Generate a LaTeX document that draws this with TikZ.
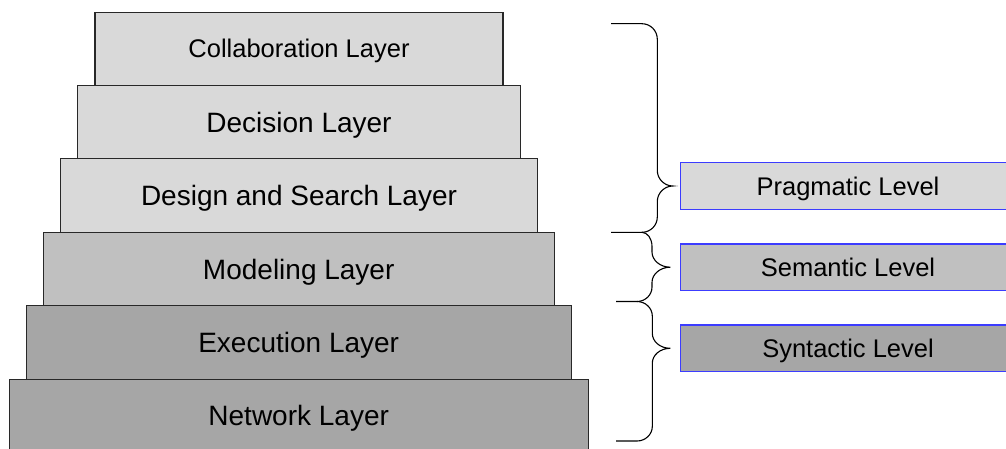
\documentclass[tikz,border=0pt]{standalone}
\usepackage{fontspec}
\setmainfont{Liberation Sans}
\definecolor{lightfill}{RGB}{217,217,217}
\definecolor{midfill}{RGB}{192,192,192}
\definecolor{darkfill}{RGB}{166,166,166}
\definecolor{levelblue}{RGB}{60,60,255}
\definecolor{layerline}{RGB}{40,40,40}
\tikzset{
  layerbox/.style={draw=layerline, line width=1.1pt, minimum height=73.4, inner sep=0pt,
    text height=20.05pt, text depth=0pt, font=\fontsize{28}{32}\selectfont},
  smalltext/.style={text height=18.26pt, font=\fontsize{25.5}{30}\selectfont},
  levelbox/.style={draw=levelblue, line width=1.3pt, minimum width=335.4, minimum height=46.6,
    inner sep=0pt, text height=18.26pt, text depth=0pt, font=\fontsize{25.5}{30}\selectfont},
  bracepath/.style={draw=black, line width=1.1pt}
}
\begin{document}
\begin{tikzpicture}[x=1pt,y=-1pt]
\useasboundingbox (0,0) rectangle (1006,449);
\clip (0,0) rectangle (1006,449);
\fill[white] (0,0) rectangle (1006,449);
% layers
\node[layerbox, smalltext, fill=lightfill, minimum width=408] (collab) at (299,48.8) {Collaboration Layer};
\node[layerbox, fill=lightfill, minimum width=442.6] (decision) at (299,122.2) {Decision Layer};
\node[layerbox, fill=lightfill, minimum width=476.6] (design) at (299,195.6) {Design and Search Layer};
\node[layerbox, fill=midfill, minimum width=510.7] (modeling) at (298.7,269) {Modeling Layer};
\node[layerbox, fill=darkfill, minimum width=544.7] (execution) at (298.7,342.4) {Execution Layer};
\node[layerbox, fill=darkfill, minimum width=578.7] (network) at (298.7,415.8) {Network Layer};
% levels
\node[levelbox, fill=lightfill] (pragmatic) at (848,186) {Pragmatic Level};
\node[levelbox, fill=midfill] (semantic) at (848,267.2) {Semantic Level};
\node[levelbox, fill=darkfill] (syntactic) at (848,348.3) {Syntactic Level};
% brace 1 (pragmatic)
\draw[bracepath] (611,23.7) -- (641.8,23.7)
  .. controls (650.4,23.7) and (657.3,30.6) .. (657.3,39.2)
  -- (657.3,170.5)
  .. controls (657.3,179.1) and (664.6,186) .. (672.8,186)
  .. controls (664.6,186) and (657.3,192.9) .. (657.3,201.5)
  -- (657.3,217)
  .. controls (657.3,225.6) and (650.4,232.3) .. (641.8,232.3)
  -- (611,232.3);
% brace 2 (semantic)
\draw[bracepath] (641.8,232.3)
  .. controls (647.6,232.3) and (652,238.7) .. (652,246.5)
  -- (652,252)
  .. controls (652,260.3) and (660.2,267.2) .. (670.3,267.2)
  .. controls (660.2,267.2) and (652,274.1) .. (652,282.4)
  -- (652,287)
  .. controls (652,295) and (645.3,301.5) .. (637,301.5)
  -- (616,301.5);
% brace 3 (syntactic)
\draw[bracepath] (637,301.5)
  .. controls (645.3,301.5) and (652.3,308) .. (652.3,316)
  -- (652.3,333.3)
  .. controls (652.3,341.6) and (660.2,348.3) .. (670.3,348.3)
  .. controls (660.2,348.3) and (652.3,355) .. (652.3,363.3)
  -- (652.3,426.5)
  .. controls (652.3,434.5) and (645.3,441) .. (637,441)
  -- (616,441);
\end{tikzpicture}
\end{document}
